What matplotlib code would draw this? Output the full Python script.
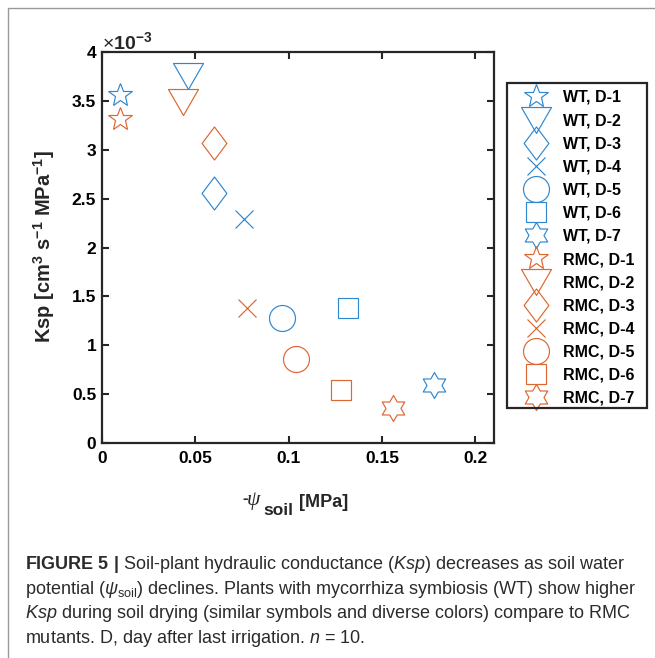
import numpy as np
import matplotlib
matplotlib.use("Agg")
import matplotlib.pyplot as plt
from matplotlib.path import Path
from matplotlib.lines import Line2D
from matplotlib.patches import Rectangle
from matplotlib.ticker import FuncFormatter

plt.rcParams['font.family'] = ['Liberation Sans', 'DejaVu Sans']
plt.rcParams['mathtext.fontset'] = 'custom'
plt.rcParams['mathtext.rm'] = 'Liberation Sans'
plt.rcParams['mathtext.it'] = 'Liberation Sans:italic'
plt.rcParams['mathtext.bf'] = 'Liberation Sans:bold'

# data (Ksp in units of 1e-3)
days = ['D-1', 'D-2', 'D-3', 'D-4', 'D-5', 'D-6', 'D-7']
wt_psi = [0.010, 0.046, 0.060, 0.076, 0.0965, 0.132, 0.178]
wt_ksp = [3.56, 3.75, 2.56, 2.29, 1.28, 1.38, 0.59]
rmc_psi = [0.010, 0.0435, 0.060, 0.078, 0.104, 0.128, 0.156]
rmc_ksp = [3.31, 3.49, 3.07, 1.38, 0.86, 0.54, 0.36]

blue = '#2f88cf'
orange = '#de6630'

W, H = 655, 658


def fx(x):
    return x / W


def fy(y):
    return 1 - y / H


# MATLAB-like marker shapes
tri = Path([(-1, 0.866), (1, 0.866), (0, -0.866), (-1, 0.866)], closed=True)
dia = Path([(0, 1), (0.75, 0), (0, -1), (-0.75, 0), (0, 1)], closed=True)
ang = np.deg2rad(90 + 30 * np.arange(12))
rad = np.where(np.arange(12) % 2 == 0, 1.0, 0.577)
hexv = np.column_stack([rad * np.cos(ang), rad * np.sin(ang)])
hexv = np.vstack([hexv, hexv[:1]])
hexa = Path(hexv, closed=True)

markers = ['*', tri, dia, 'x', 'o', 's', hexa]
msizes = [18, 21.6, 23.8, 13, 18.7, 15, 18.7]

fig = plt.figure(figsize=(W / 100, H / 100), dpi=100)
ax = fig.add_axes([fx(101.7), fy(443), (494 - 101.7) / W, (443 - 52) / H])

handles = []
for name, psi, ksp, col in [('WT', wt_psi, wt_ksp, blue), ('RMC', rmc_psi, rmc_ksp, orange)]:
    for i in range(len(days)):
        h, = ax.plot([psi[i]], [ksp[i]], linestyle='none', marker=markers[i],
                     markersize=msizes[i], markerfacecolor='none',
                     markeredgecolor=col, markeredgewidth=0.85,
                     label=f'{name}, {days[i]}')
        handles.append(h)

ax.set_xlim(0, 0.21)
ax.set_ylim(0, 4)
ax.set_xticks([0, 0.05, 0.1, 0.15, 0.2])
ax.set_yticks(np.arange(0, 4.01, 0.5))
fmt = FuncFormatter(lambda v, p: f'{v:g}')
ax.xaxis.set_major_formatter(fmt)
ax.yaxis.set_major_formatter(fmt)
ax.tick_params(direction='in', top=True, right=True, length=5, width=1.5,
               labelsize=12.5, color='#262626')
ax.tick_params(axis='x', pad=6)
ax.tick_params(axis='y', pad=4)
for lab in ax.get_xticklabels() + ax.get_yticklabels():
    lab.set_fontweight('bold')
for sp in ax.spines.values():
    sp.set_linewidth(1.6)
    sp.set_color('#262626')

# exponent label
fig.text(fx(102), fy(49), r'$\times\mathbf{10^{-3}}$', fontsize=14,
         va='baseline', ha='left', color='#262626')

# y label
fig.text(fx(44), fy(247), r'Ksp [cm$^{\mathbf{3}}$ s$^{\mathbf{-1}}$ MPa$^{\mathbf{-1}}$]',
         rotation=90, ha='center', va='center', fontsize=14.5, fontweight='bold',
         color='#262626')

# x label pieces
fig.text(fx(242), fy(503), '-', fontsize=12, fontweight='bold', va='baseline', color='#262626')
fig.text(fx(247), fy(505), 'ψ', fontsize=15.5, family='Liberation Serif', style='italic',
         va='baseline', color='#262626')
fig.text(fx(263), fy(515), 'soil', fontsize=12.5, fontweight='bold', va='baseline', color='#262626')
fig.text(fx(299), fy(507), '[MPa]', fontsize=13, fontweight='bold', va='baseline', color='#262626')

# legend
leg = ax.legend(handles=handles, loc='upper left', bbox_to_anchor=(fx(520), fy(90)),
                bbox_transform=fig.transFigure, frameon=False, borderaxespad=0,
                borderpad=0, labelspacing=0.51, handlelength=2.0,
                handletextpad=0.69, prop={'weight': 'bold', 'size': 11.5})
fig.patches.append(Rectangle((fx(507), fy(408)), (647 - 507) / W, (408 - 83) / H,
                             transform=fig.transFigure, fill=False, lw=1.6,
                             edgecolor='#262626'))

# page frame
fig.add_artist(Line2D([fx(8), fx(8), fx(655)], [fy(658), fy(8), fy(8)],
                      transform=fig.transFigure, color='#999999', lw=1))

# caption
cap = [
    r'$\mathbf{FIGURE\ 5\ |}$ Soil-plant hydraulic conductance ($\mathit{Ksp}$) decreases as soil water',
    r'potential ($\mathit{\psi}_{\mathrm{soil}}$) declines. Plants with mycorrhiza symbiosis (WT) show higher',
    r'$\mathit{Ksp}$ during soil drying (similar symbols and diverse colors) compare to RMC',
    r'mutants. D, day after last irrigation. $\mathit{n}$ = 10.',
]
for k, line in enumerate(cap):
    fig.text(fx(25), fy(569 + 24.6 * k), line, fontsize=13, va='baseline', ha='left',
             color='#2b2b2b')

fig.savefig('out.png', dpi=100)
